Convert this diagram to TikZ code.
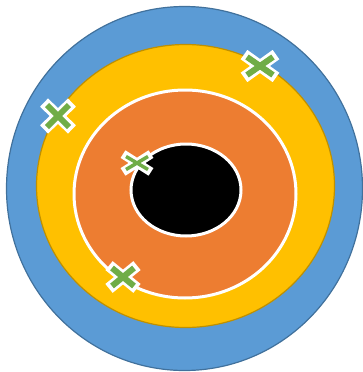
\documentclass[tikz,border=0pt]{standalone}
\begin{document}
\begin{tikzpicture}[x=1pt,y=-1pt]
\definecolor{cblue}{RGB}{91,155,213}
\definecolor{cblueb}{RGB}{65,113,156}
\definecolor{cyel}{RGB}{255,192,0}
\definecolor{cyelb}{RGB}{191,144,0}
\definecolor{corg}{RGB}{237,125,49}
\definecolor{cgrn}{RGB}{112,173,71}
\tikzset{ring/.style={line width=3pt,draw=white},
  crossbg/.style={draw=white},crossfg/.style={draw=cgrn}}
\useasboundingbox (0,0) rectangle (363,372);
\draw[fill=cblue,draw=cblueb,line width=1.2pt] (184.5,188.5) ellipse [x radius=178,y radius=182];
\draw[fill=cyel,draw=cyelb,line width=1.2pt] (185.5,186) ellipse [x radius=149,y radius=141.5];
\draw[ring,fill=corg] (185,194) ellipse [x radius=111,y radius=104];
\draw[ring,fill=black] (186,190) ellipse [x radius=55,y radius=46];
\newcommand{\mycross}[5]{%
  \begin{scope}[shift={(#1,#2)}]
  \draw[crossbg,line width=#5+5.5pt] (-#3-3,-#4-2.4) -- (#3+3,#4+2.4) (-#3-3,#4+2.4) -- (#3+3,-#4-2.4);
  \draw[crossfg,line width=#5] (-#3,-#4) -- (#3,#4) (-#3,#4) -- (#3,-#4);
  \end{scope}}
\mycross{260}{66}{13}{9}{6pt}
\mycross{58}{116}{11}{11}{6pt}
\mycross{137}{163}{11}{6.5}{3.5pt}
\mycross{123}{277}{11}{9}{6pt}
\end{tikzpicture}
\end{document}
